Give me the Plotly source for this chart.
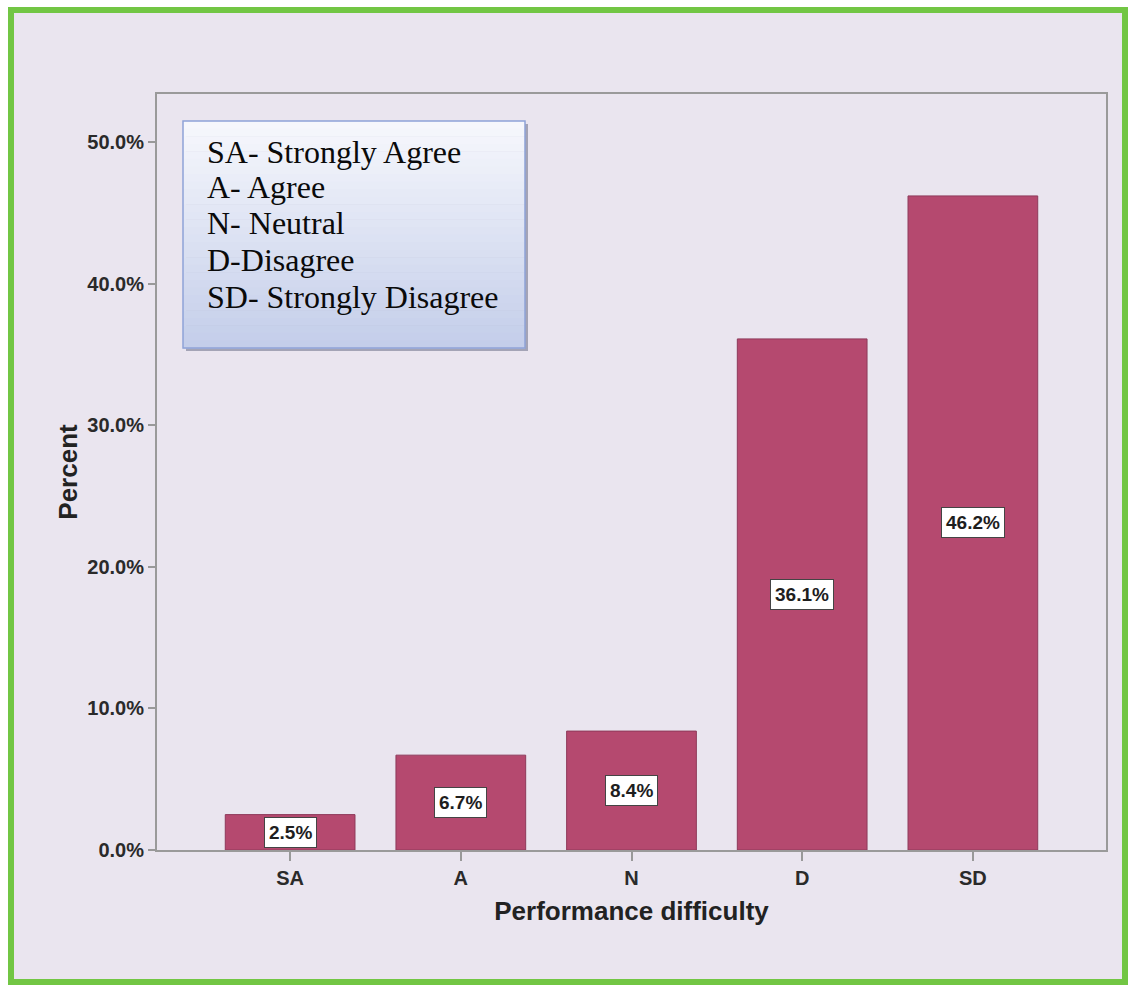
import plotly.graph_objects as go

categories = ["SA", "A", "N", "D", "SD"]
percent_values = [2.5, 6.7, 8.4, 36.1, 46.2]
y_tick_values = [0, 10, 20, 30, 40, 50]
y_tick_labels = ["0.0%", "10.0%", "20.0%", "30.0%", "40.0%", "50.0%"]
legend_lines = ["SA- Strongly Agree", "A- Agree", "N- Neutral", "D-Disagree", "SD- Strongly Disagree"]
x_title = "Performance difficulty"
y_title = "Percent"

W, H = 1128, 985
ML, MR, MT, MB = 157, 22, 94, 135
PW, PH = W - ML - MR, H - MT - MB


def px_x(p):
    return (p - ML) / PW


def px_y(p):
    return (H - MB - p) / PH


fig = go.Figure()
fig.add_trace(go.Bar(
    x=categories, y=percent_values, width=0.76,
    marker=dict(color="#B5496F", line=dict(color="#8E3A5A", width=1)),
    hoverinfo="x+y",
))

shapes = []
shapes.append(dict(type="rect", xref="paper", yref="paper", layer="below",
                   x0=px_x(11), x1=px_x(1125), y0=px_y(982), y1=px_y(10),
                   fillcolor="#EAE5EF", line=dict(color="#72C644", width=6)))

bx0, bx1, by0, by1 = 183, 525, 121, 348
shapes.append(dict(type="rect", xref="paper", yref="paper",
                   x0=px_x(bx0 + 3), x1=px_x(bx1 + 3), y0=px_y(by1 + 3), y1=px_y(by0 + 3),
                   fillcolor="#A4A4B6", line=dict(width=0)))
n_strips = 30
c_top = (246, 247, 252)
c_bot = (196, 206, 234)
for i in range(n_strips):
    t = i / (n_strips - 1)
    c = tuple(int(round(c_top[k] + (c_bot[k] - c_top[k]) * t)) for k in range(3))
    ya = by0 + (by1 - by0) * i / n_strips
    yb = by0 + (by1 - by0) * (i + 1) / n_strips
    shapes.append(dict(type="rect", xref="paper", yref="paper",
                       x0=px_x(bx0), x1=px_x(bx1), y0=px_y(yb + 0.5), y1=px_y(ya),
                       fillcolor="rgb(%d,%d,%d)" % c, line=dict(width=0)))
shapes.append(dict(type="rect", xref="paper", yref="paper",
                   x0=px_x(bx0), x1=px_x(bx1), y0=px_y(by1), y1=px_y(by0),
                   fillcolor="rgba(0,0,0,0)", line=dict(color="#8FA3D8", width=1.5)))

annotations = []
line_y = [152, 187, 223, 260, 297]
for txt, yy in zip(legend_lines, line_y):
    annotations.append(dict(xref="paper", yref="paper", x=px_x(205), y=px_y(yy),
                            xanchor="left", yanchor="middle", showarrow=False, text=txt,
                            font=dict(family="Liberation Serif, Times New Roman, serif",
                                      size=32, color="#0a0a0a")))

for c, v in zip(categories, percent_values):
    annotations.append(dict(x=c, y=v / 2, xref="x", yref="y", showarrow=False,
                            text="%.1f%%" % v,
                            font=dict(family="Arial, Liberation Sans, sans-serif", size=19,
                                      color="#1e1e1e", weight="bold"),
                            bgcolor="white", bordercolor="#444", borderwidth=1, borderpad=4))

fig.update_layout(
    width=W, height=H, autosize=False,
    margin=dict(l=ML, r=MR, t=MT, b=MB, pad=0),
    paper_bgcolor="white", plot_bgcolor="#FDFEFF",
    showlegend=False,
    shapes=shapes, annotations=annotations,
    font=dict(family="Arial, Liberation Sans, sans-serif", color="#2a2a2a"),
)
fig.update_xaxes(
    type="category", range=[-0.78, 4.78],
    showline=True, mirror=True, linecolor="#9A9A9A", linewidth=2,
    ticks="outside", ticklen=9, tickcolor="#999", tickwidth=1.5,
    tickfont=dict(size=20, weight="bold", color="#2a2a2a"),
    showgrid=False, zeroline=False,
    title=dict(text=x_title, standoff=14,
               font=dict(size=26, weight="bold", color="#222")),
)
fig.update_yaxes(
    range=[0, 53.4], tickmode="array", tickvals=y_tick_values, ticktext=y_tick_labels,
    showline=True, mirror=True, linecolor="#9A9A9A", linewidth=2,
    ticks="outside", ticklen=7, tickcolor="#999", tickwidth=1.5,
    tickfont=dict(size=20, weight="bold", color="#2a2a2a"),
    showgrid=False, zeroline=False,
    title=dict(text=y_title, standoff=2,
               font=dict(size=26, weight="bold", color="#222")),
)

fig.write_html("out.html", config={"displayModeBar": False},
               post_script="document.body.style.margin='0px';document.body.style.overflow='hidden';")
